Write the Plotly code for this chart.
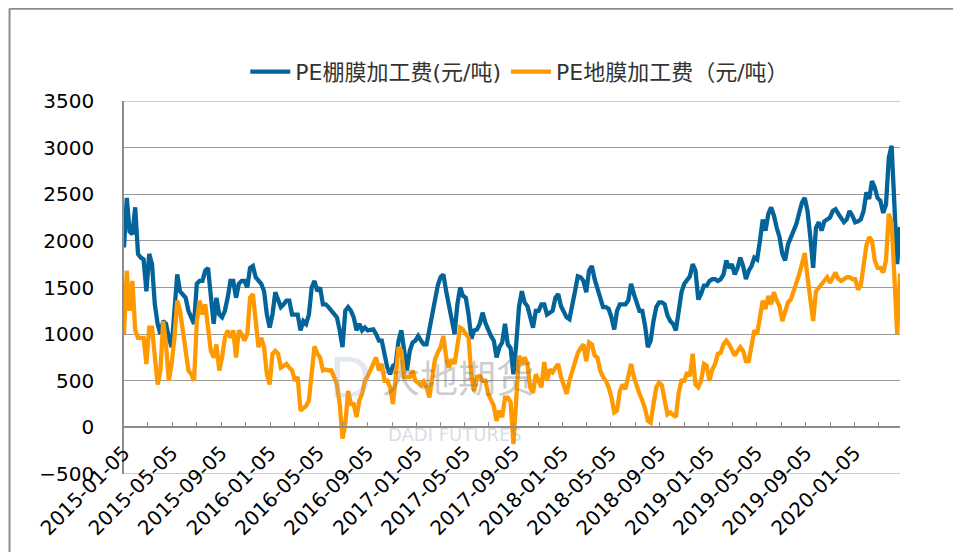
import pandas as pd
import plotly.graph_objects as go

# ---- data (weekly samples) ----
start_date = "2015-01-05"

greenhouse_film = [  # PE棚膜加工费(元/吨)
    1930, 2460, 2100, 2070, 2360, 1860, 1820, 1800, 1460, 1860,
    1750, 1320, 1110, 1000, 1140, 1110, 960, 860, 1250, 1640,
    1460, 1430, 1390, 1250, 1180, 1110, 1540, 1570, 1570, 1680,
    1710, 1390, 1110, 1390, 1210, 1180, 1250, 1390, 1570, 1570,
    1390, 1540, 1570, 1570, 1500, 1710, 1730, 1610, 1570, 1540,
    1460, 1210, 1070, 1210, 1450, 1360, 1290, 1320, 1360, 1360,
    1210, 1210, 1210, 1040, 1140, 1110, 1210, 1500, 1570, 1460,
    1500, 1320, 1320, 1290, 1250, 1210, 1180, 1040, 860, 1250,
    1290, 1250, 1180, 1040, 1110, 1040, 1070, 1040, 1050, 1050,
    1000, 930, 930, 790, 640, 570, 660, 680, 930, 1040,
    860, 610, 820, 910, 930, 980, 930, 890, 890, 1040,
    1230, 1370, 1520, 1610, 1640, 1460, 1290, 1180, 1000, 1320,
    1500, 1410, 1390, 1210, 950, 1040, 1050, 1110, 1230, 1120,
    1040, 980, 930, 750, 860, 910, 1110, 890, 850, 570,
    890, 1290, 1460, 1340, 1300, 1180, 1070, 1250, 1250, 1320,
    1320, 1210, 1230, 1250, 1390, 1430, 1300, 1250, 1180, 1160,
    1290, 1460, 1620, 1610, 1570, 1450, 1680, 1730, 1590, 1500,
    1390, 1290, 1290, 1270, 1180, 1050, 1250, 1320, 1320, 1320,
    1360, 1540, 1430, 1320, 1250, 1250, 1090, 860, 930, 1140,
    1290, 1340, 1340, 1320, 1200, 1140, 1110, 1040, 1230, 1450,
    1540, 1590, 1620, 1750, 1680, 1370, 1430, 1520, 1520, 1570,
    1590, 1590, 1570, 1590, 1640, 1790, 1710, 1750, 1640, 1710,
    1820, 1730, 1590, 1680, 1730, 1820, 1800, 2000, 2230, 2110,
    2290, 2360, 2270, 2140, 2040, 1860, 1790, 1960, 2040, 2090,
    2180, 2300, 2410, 2460, 2320, 2040, 1710, 2140, 2200, 2110,
    2210, 2230, 2250, 2320, 2340, 2290, 2250, 2200, 2230, 2320,
    2270, 2200, 2210, 2230, 2320, 2520, 2450, 2640, 2570, 2460,
    2430, 2300, 2390, 2890, 3020, 2300, 1750, 2150,
]

mulch_film = [  # PE地膜加工费（元/吨）
    1000, 1680, 1250, 1570, 1040, 960, 960, 960, 680, 1070,
    1070, 750, 460, 610, 1140, 890, 500, 680, 960, 1360,
    1250, 1040, 820, 610, 570, 500, 1140, 1360, 1210, 1320,
    1070, 820, 750, 890, 610, 750, 960, 1040, 960, 1040,
    750, 1040, 1000, 930, 1000, 1390, 1430, 1110, 860, 960,
    860, 570, 460, 790, 820, 790, 640, 660, 680, 640,
    610, 500, 540, 180, 200, 230, 290, 640, 870, 790,
    750, 610, 620, 610, 610, 540, 460, 250, -120, 40,
    390, 250, 250, 110, 290, 360, 500, 550, 610, 680,
    750, 610, 680, 500, 500, 430, 250, 540, 860, 820,
    540, 540, 540, 610, 500, 480, 450, 490, 430, 320,
    500, 730, 800, 860, 980, 750, 640, 730, 680, 890,
    1070, 1050, 1000, 960, 540, 390, 540, 550, 500, 500,
    360, 300, 230, 70, 180, 110, 320, 320, 270, -180,
    320, 770, 680, 750, 680, 430, 370, 570, 500, 430,
    700, 500, 620, 590, 640, 680, 540, 430, 360, 500,
    610, 680, 800, 850, 890, 710, 910, 890, 770, 750,
    610, 540, 500, 430, 320, 160, 180, 390, 460, 410,
    540, 680, 540, 430, 360, 290, 200, 70, 50, 250,
    430, 480, 450, 290, 140, 160, 140, 110, 370, 500,
    500, 590, 550, 790, 460, 430, 500, 680, 660, 500,
    620, 680, 790, 800, 890, 930, 890, 820, 770, 820,
    860, 820, 710, 710, 890, 1040, 1000, 1180, 1360, 1270,
    1410, 1320, 1450, 1360, 1300, 1140, 1230, 1340, 1370, 1450,
    1540, 1640, 1750, 1870, 1610, 1390, 1140, 1460, 1500, 1540,
    1570, 1610, 1550, 1610, 1660, 1590, 1570, 1590, 1610, 1610,
    1590, 1590, 1480, 1520, 1750, 1950, 2040, 2000, 1790, 1710,
    1710, 1660, 1790, 2290, 2200, 1500, 1000, 1650,
]

series_names = ["PE棚膜加工费(元/吨)", "PE地膜加工费（元/吨）"]
series_colors = ["#03649A", "#FF9900"]

y_ticks = [-500, 0, 500, 1000, 1500, 2000, 2500, 3000, 3500]

dates = pd.date_range(start_date, periods=len(greenhouse_film), freq="7D")

# ---- figure ----
fig = go.Figure()
for name, vals, col in zip(series_names, [greenhouse_film, mulch_film], series_colors):
    fig.add_trace(go.Scatter(
        x=dates, y=vals, mode="lines", name=name,
        line=dict(color=col, width=4.3),
    ))

grey = "#8c8c8c"
gridc = "#9a9a9a"
latin = "DejaVu Sans, Noto Sans CJK SC, sans-serif"

fig.update_layout(
    width=945, height=544,
    margin=dict(l=116, r=53, t=93, b=78),
    paper_bgcolor="white", plot_bgcolor="white",
    font=dict(family=latin, color="#000000"),
    showlegend=True,
    legend=dict(
        orientation="h", x=0.51, xanchor="center", y=1.078, yanchor="middle",
        font=dict(size=22, family=latin, color="#333333"),
        bgcolor="rgba(0,0,0,0)", itemwidth=40,
    ),
    xaxis=dict(
        type="date",
        range=[dates[0], dates[-1]],
        anchor="free", position=(0 - y_ticks[0]) / (y_ticks[-1] - y_ticks[0]),
        showline=True, linecolor=grey, linewidth=1.5,
        showgrid=False, zeroline=False,
        tick0=start_date, dtick="M4", tickformat="%Y-%m-%d",
        ticks="inside", ticklen=5, tickcolor=grey,
        minor=dict(tick0=start_date, dtick="M2", ticks="inside", ticklen=5,
                   tickcolor=grey, showgrid=False),
        tickangle=-45, tickfont=dict(size=20, color="#000000"),
        ticklabelstandoff=5,
    ),
    yaxis=dict(
        range=[y_ticks[0], y_ticks[-1]],
        tickvals=y_ticks,
        showgrid=True, gridcolor=gridc, gridwidth=1,
        showline=True, linecolor=grey, linewidth=1.5,
        zeroline=False, ticks="",
        tickfont=dict(size=20, color="#000000"),
        ticklabelstandoff=24,
    ),
)

# top and bottom edge gridlines of the plot area
for yv in (y_ticks[0], y_ticks[-1]):
    fig.add_shape(type="line", xref="paper", yref="y", x0=0, x1=1, y0=yv, y1=yv,
                  line=dict(color=gridc, width=1.2), layer="below")

# outer chart border (left and top edges)
fig.add_shape(type="line", xref="paper", yref="paper",
              x0=-0.1475, x1=-0.1475, y0=-0.25, y1=1.248,
              line=dict(color=grey, width=2))
fig.add_shape(type="line", xref="paper", yref="paper",
              x0=-0.1475, x1=1.1, y0=1.247, y1=1.247,
              line=dict(color=grey, width=2))

# watermark
fig.add_annotation(text="大地期货", xref="paper", yref="paper",
                   x=0.43, y=0.185, showarrow=False,
                   font=dict(size=38, family="Noto Sans CJK SC", color="rgba(110,110,110,0.35)"))
fig.add_annotation(text="DADI FUTURES", xref="paper", yref="paper",
                   x=0.4265, y=0.072, showarrow=False,
                   font=dict(size=18, family="DejaVu Sans", color="rgba(120,135,160,0.3)"))
fig.add_annotation(text="D", xref="paper", yref="paper",
                   x=0.262, y=0.166, showarrow=False,
                   font=dict(size=56, family="DejaVu Sans", color="rgba(150,170,200,0.28)"))

fig.write_html("out.html")
